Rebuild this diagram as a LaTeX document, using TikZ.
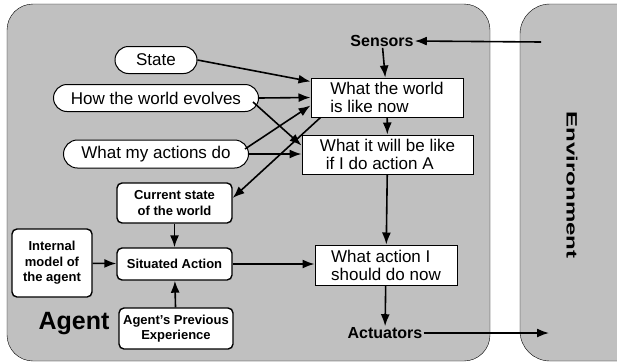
\documentclass[tikz,border=0pt]{standalone}
\usepackage{fontspec}
\setmainfont{Liberation Sans}
\usetikzlibrary{arrows.meta,shapes.misc}

\definecolor{agentgray}{RGB}{192,192,192}

\begin{document}
\begin{tikzpicture}[x=1pt,y=-1pt,>={Latex[length=12pt,width=9pt]},
  link/.style={->,line width=1.6pt},
  plain box/.style={draw,fill=white,line width=1pt,inner sep=0pt,align=left,font=\fontsize{17}{18}\selectfont},
  oval box/.style={draw,fill=white,rounded rectangle,line width=1pt,inner sep=0pt,minimum height=27pt,font=\fontsize{17}{17}\selectfont},
  bold box/.style={draw,fill=white,rounded corners=5pt,line width=1.4pt,inner sep=0pt,align=center,font=\bfseries\fontsize{13}{15.5}\selectfont}]
\tikzstyle{port} = [font=\bfseries\fontsize{16}{16}\selectfont,inner sep=1pt]

\useasboundingbox (0,0) rectangle (617,362);
\clip (0,0) rectangle (617,362);

% Agent and environment
\filldraw[draw=black, fill=agentgray, rounded corners=26pt] (7,4) rectangle (490,361);
\filldraw[draw=black, fill=agentgray, rounded corners=30pt] (520,4) rectangle (680,361);
\node[rotate=-90, font=\bfseries\fontsize{15}{15}\selectfont] (environment) at (572,185) {\scalebox{1.6}[1]{Environment}};
\node[font=\bfseries\fontsize{25}{25}\selectfont] (agent) at (74,324) {Agent};

\node[port] (sensors) at (382,41) {Sensors};
\node[port] (actuators) at (385,333) {Actuators};
\coordinate (envin) at (541,42);
\coordinate (envout) at (549,333);

\node[plain box, minimum width=152pt, minimum height=39pt] (now) at (387,97.5) {What the world\\is like now};
\node[plain box, minimum width=171pt, minimum height=39pt] (future) at (387.5,154.5) {What it will be like\\\hspace*{6pt}if I do action A};
\node[plain box, minimum width=142pt, minimum height=40pt] (decide) at (386,265) {What action I\\should do now};

\node[oval box, minimum width=82pt] (state) at (156,60) {State};
\node[oval box, minimum width=205pt] (evolves) at (156,98) {How the world evolves};
\node[oval box, minimum width=185pt, minimum height=28pt] (actions) at (156,154) {What my actions do};

\node[bold box, minimum width=115pt, minimum height=40pt] (current) at (174.5,203) {Current state\\of the world};
\node[bold box, minimum width=115pt, minimum height=32pt] (situated) at (174.5,264) {Situated Action};
\node[bold box, minimum width=80pt, minimum height=68pt] (internal) at (52,263) {Internal\\model of\\the agent};
\node[bold box, minimum width=114pt, minimum height=41pt] (experience) at (176,328.5) {Agent’s Previous\\Experience};

\draw[link] (envin) -- (sensors.east);
\draw[link] (sensors) -- (now);
\draw[link] (now) -- (future);
\draw[link] (future) -- (decide);
\draw[link] (decide) -- (actuators);
\draw[link] (actuators.east) -- (envout);

\draw[link] (state.east) -- ([yshift=16pt]now.west);
\draw[link] (evolves.east) -- (now.west);
\draw[link] ([xshift=-6pt,yshift=-4pt]evolves.east) -- ([yshift=9pt]future.west);
\draw[link] ([xshift=-4pt,yshift=5pt]actions.east) -- ([yshift=-8pt]now.west);
\draw[link] (actions.east) -- (actions -| future.west);
\draw[link] ([xshift=10pt]now.south west) -- ([yshift=5pt]current.east);

\draw[link] (current) -- (situated);
\draw[link] (internal) -- (situated);
\draw[link] (experience) -- (situated);
\draw[link] (situated.east) -- (situated -| decide.west);
\end{tikzpicture}
\end{document}
